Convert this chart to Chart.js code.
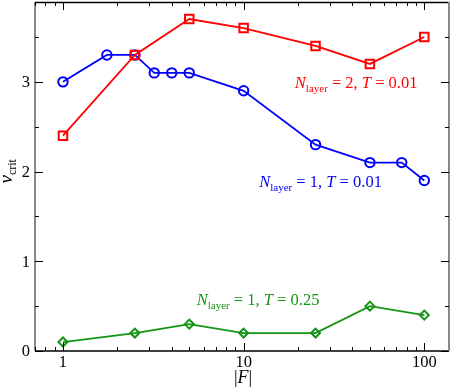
<!DOCTYPE html>
<html><head><meta charset="utf-8">
<script src="https://cdn.jsdelivr.net/npm/chart.js@4"></script>
<style>html,body{margin:0;padding:0;background:#fff}</style>
</head><body>
<canvas id="chart" width="452" height="387"></canvas>
<script>
// |F| values and v_crit for each curve
const fN2T001=[1,2.5,5,10,25,50,100];
const vN2T001=[2.4,3.3,3.7,3.6,3.4,3.2,3.5];
const fN1T001=[1,1.75,2.5,3.2,4,5,10,25,50,75,100];
const vN1T001=[3.0,3.3,3.3,3.1,3.1,3.1,2.9,2.3,2.1,2.1,1.9];
const fN1T025=[1,2.5,5,10,25,50,100];
const vN1T025=[0.1,0.2,0.3,0.2,0.2,0.5,0.4];
const xTickLabels=[1,10,100];
const yTickLabels=[0,1,2,3];

const RED="#ff0000",BLUE="#0000ff",GREEN="#149414";
const SERIF="'Liberation Serif','DejaVu Serif',serif";

function pts(xs,ys){return xs.map((x,i)=>({x:x,y:ys[i]}))}

// curve labels: [N value, T value, color, anchor x, anchor y] (data coords)
const curveLabels=[
 ["2","0.01",RED,19.2,2.93],
 ["1","0.01",BLUE,12.2,1.83],
 ["1","0.25",GREEN,5.5,0.51]
];

function drawLabel(c,x,y,n,t,col){
 c.fillStyle=col;c.textBaseline="alphabetic";c.textAlign="left";
 const parts=[["N","italic 16.5px",0],["layer","11px",4],[" = "+n+", ","16.5px",0],["T","italic 16.5px",0],[" = "+t,"16.5px",0]];
 parts.forEach(p=>{
  c.font=p[1]+" "+SERIF;
  c.fillText(p[0],x,y+p[2]);
  x+=c.measureText(p[0]).width;
 });
}

const frame={
 id:"frame",
 afterDatasetsDraw(ch){
  const c=ch.ctx,a=ch.chartArea,xs=ch.scales.x,ys=ch.scales.y;
  c.save();
  // axes box
  c.lineWidth=1.5;c.strokeStyle="#000";
  c.beginPath();c.moveTo(a.left,a.top+0.5);c.lineTo(a.right,a.top+0.5);
  c.moveTo(a.left,a.bottom);c.lineTo(a.right,a.bottom);c.stroke();
  c.strokeStyle="#888";c.lineWidth=2;
  c.beginPath();c.moveTo(a.left,a.top);c.lineTo(a.left,a.bottom);
  c.moveTo(a.right,a.top);c.lineTo(a.right,a.bottom);c.stroke();
  // x ticks
  c.strokeStyle="#000";c.lineWidth=1;
  c.beginPath();
  [0.1,1,10,100].forEach(d=>{
   for(let m=1;m<10;m++){
    const v=m*d;
    if(v<xs.min||v>xs.max) continue;
    const px=Math.round(xs.getPixelForValue(v))+0.5,len=m===1?8:4;
    c.moveTo(px,a.bottom);c.lineTo(px,a.bottom-len);
    c.moveTo(px,a.top);c.lineTo(px,a.top+len);
   }
  });
  // y ticks
  for(let v=0;v<=ys.max;v+=0.5){
   const py=Math.round(ys.getPixelForValue(v))+0.5,len=(v%1===0)?8:4;
   c.moveTo(a.left,py);c.lineTo(a.left+len,py);
   c.moveTo(a.right,py);c.lineTo(a.right-len,py);
  }
  c.stroke();
  // tick labels
  c.fillStyle="#000";c.font="16.5px "+SERIF;
  c.textAlign="center";c.textBaseline="alphabetic";
  xTickLabels.forEach(v=>c.fillText(String(v),xs.getPixelForValue(v),a.bottom+16));
  c.textAlign="right";c.textBaseline="middle";
  yTickLabels.forEach(v=>c.fillText(String(v),a.left-5,ys.getPixelForValue(v)+1));
  // x title |F|
  c.textAlign="left";c.textBaseline="alphabetic";
  c.font="18px "+SERIF;
  const bw=c.measureText("|").width;
  c.font="italic 18px "+SERIF;
  const fw=c.measureText("F").width;
  let tx=(a.left+a.right)/2-(2*bw+fw)/2+1,ty=a.bottom+32;
  c.font="18px "+SERIF;c.fillText("|",tx,ty);tx+=bw;
  c.font="italic 18px "+SERIF;c.fillText("F",tx,ty);tx+=fw;
  c.font="18px "+SERIF;c.fillText("|",tx,ty);
  // y title v_crit
  c.translate(12,(a.top+a.bottom)/2+7);c.rotate(-Math.PI/2);
  c.font="italic 19px "+SERIF;c.fillText("v",0,0);
  const vw=c.measureText("v").width;
  c.font="12px "+SERIF;c.fillText("crit",vw,4);
  c.restore();
  // curve labels
  c.save();
  curveLabels.forEach(l=>drawLabel(c,xs.getPixelForValue(l[3]),ys.getPixelForValue(l[4]),l[0],l[1],l[2]));
  c.restore();
 }
};

function ds(xs,ys,col,shape,r){
 return {data:pts(xs,ys),borderColor:col,backgroundColor:"rgba(0,0,0,0)",
  borderWidth:1.8,pointStyle:shape,pointRadius:r,pointBorderWidth:2,
  pointBorderColor:col,pointBackgroundColor:"rgba(0,0,0,0)",tension:0,clip:false};
}

new Chart(document.getElementById("chart").getContext("2d"),{
 type:"line",
 data:{datasets:[
  ds(fN2T001,vN2T001,RED,"rect",6),
  ds(fN1T001,vN1T001,BLUE,"circle",4.7),
  ds(fN1T025,vN1T025,GREEN,"rectRot",4.5)
 ]},
 options:{
  responsive:false,animation:false,devicePixelRatio:1,
  layout:{autoPadding:false,padding:{left:35,right:3,top:2,bottom:36}},
  plugins:{legend:{display:false},tooltip:{enabled:false}},
  scales:{
   x:{type:"logarithmic",min:0.7,max:137,display:false},
   y:{type:"linear",min:0,max:3.89,display:false}
  }
 },
 plugins:[frame]
});
</script>
</body></html>
